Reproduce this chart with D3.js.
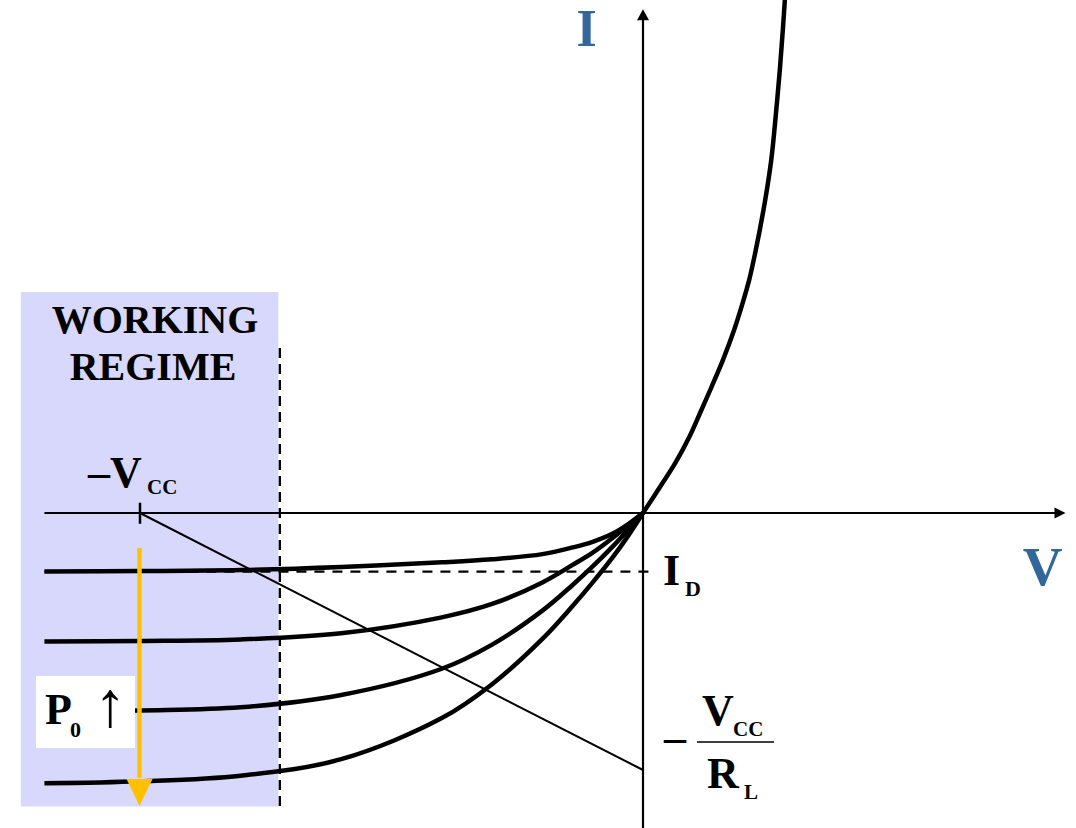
<!DOCTYPE html>
<html>
<head>
<meta charset="utf-8">
<script src="https://cdn.jsdelivr.net/npm/d3@7"></script>
<style>
  html, body { margin: 0; padding: 0; background: #ffffff; }
  svg { display: block; }
</style>
</head>
<body>
<svg id="chart" width="1076" height="828"></svg>
<script>
// Photodiode I–V characteristics under increasing optical power P0,
// with the reverse-bias working regime and the load line of R_L.

// Reverse-bias voltages at which the illuminated curves are sampled
const voltageGrid = [-11.9, -10, -8, -6, -4, -3, -2, -1.4, -1, -0.6, -0.3, 0];
// Currents for four optical power levels (lowest to highest)
const currentP1 = [-1.14, -1.13, -1.11, -1.05, -0.96, -0.90, -0.80, -0.67, -0.56, -0.40, -0.22, 0];
const currentP2 = [-2.50, -2.49, -2.46, -2.34, -2.03, -1.77, -1.35, -1.01, -0.77, -0.48, -0.24, 0];
const currentP3 = [-3.87, -3.84, -3.78, -3.54, -3.03, -2.56, -1.90, -1.40, -1.04, -0.65, -0.33, 0];
const currentP4 = [-5.26, -5.22, -5.11, -4.79, -3.99, -3.33, -2.45, -1.81, -1.35, -0.86, -0.45, 0];
// Forward-bias (dark) branch
const darkVoltage = [0, 0.34, 0.64, 0.92, 1.15, 1.37, 1.59, 1.79, 1.97, 2.11, 2.23, 2.33, 2.43, 2.55, 2.64, 2.72, 2.78, 2.82, 2.84];
const darkCurrent = [0, 0.51, 0.97, 1.48, 1.98, 2.47, 2.98, 3.50, 4.05, 4.53, 5.06, 5.55, 6.09, 6.87, 7.74, 8.62, 9.40, 9.98, 10.21];

const supplyVoltage = 10;       // V_CC
const loadIntercept = 5;        // V_CC / R_L
const darkCurrentLevel = -1.14; // I_D
const regimeVoltage = [-12.37, -7.25];
const regimeCurrent = [4.3, -5.71];
const regimeEdge = -7.22;
const axisVoltage = [-11.9, 8.4];
const axisCurrent = [-6.3, 9.8];

const svg = d3.select("#chart");
const x = d3.scaleLinear().domain([-supplyVoltage, 0]).range([140, 643]);
const y = d3.scaleLinear().domain([0, -loadIntercept]).range([513, 770]);

const blue = "#336699";

// Shaded working regime
svg.append("rect")
  .attr("x", x(regimeVoltage[0]))
  .attr("y", y(regimeCurrent[0]))
  .attr("width", x(regimeVoltage[1]) - x(regimeVoltage[0]))
  .attr("height", y(regimeCurrent[1]) - y(regimeCurrent[0]))
  .attr("fill", "#d8d8fc");

// Boundary of the regime
svg.append("line")
  .attr("x1", x(regimeEdge)).attr("x2", x(regimeEdge))
  .attr("y1", y(3.21)).attr("y2", y(-5.78))
  .attr("stroke", "#000").attr("stroke-width", 2.3)
  .attr("stroke-dasharray", "10,6");

// Axes
const axisG = svg.append("g");
axisG.append("line")
  .attr("x1", x(axisVoltage[0])).attr("x2", x(axisVoltage[1]) - 4)
  .attr("y1", y(0)).attr("y2", y(0))
  .attr("stroke", "#000").attr("stroke-width", 2);
axisG.append("line")
  .attr("x1", x(0)).attr("x2", x(0))
  .attr("y1", y(axisCurrent[0])).attr("y2", y(axisCurrent[1]) + 4)
  .attr("stroke", "#000").attr("stroke-width", 2.2);
// arrow heads
const hx = x(axisVoltage[1]), hy = y(0);
axisG.append("path")
  .attr("d", `M${hx},${hy} L${hx - 11},${hy - 5.5} L${hx - 11},${hy + 5.5} Z`)
  .attr("fill", "#000");
const vx = x(0), vy = y(axisCurrent[1]);
axisG.append("path")
  .attr("d", `M${vx},${vy} L${vx - 6},${vy + 11} L${vx + 6},${vy + 11} Z`)
  .attr("fill", "#000");

// I_D dashed level
svg.append("line")
  .attr("x1", x(-11.9)).attr("x2", x(0.16))
  .attr("y1", y(darkCurrentLevel)).attr("y2", y(darkCurrentLevel))
  .attr("stroke", "#000").attr("stroke-width", 2.3)
  .attr("stroke-dasharray", "10,8");

// Load line from (-V_CC, 0) to (0, -V_CC/R_L)
svg.append("line")
  .attr("x1", x(-supplyVoltage)).attr("y1", y(0))
  .attr("x2", x(0)).attr("y2", y(-loadIntercept))
  .attr("stroke", "#000").attr("stroke-width", 2);
// -V_CC tick
svg.append("line")
  .attr("x1", x(-supplyVoltage)).attr("x2", x(-supplyVoltage))
  .attr("y1", y(0.2)).attr("y2", y(-0.21))
  .attr("stroke", "#000").attr("stroke-width", 2.5);

// Characteristic curves
const line = d3.line()
  .x(d => x(d[0])).y(d => y(d[1]))
  .curve(d3.curveCatmullRom.alpha(0.5));

[currentP1, currentP2, currentP3, currentP4].forEach(series => {
  svg.append("path")
    .datum(voltageGrid.map((v, i) => [v, series[i]]))
    .attr("d", line)
    .attr("fill", "none")
    .attr("stroke", "#000")
    .attr("stroke-width", 4.5);
});
svg.append("path")
  .datum(darkVoltage.map((v, i) => [v, darkCurrent[i]]))
  .attr("d", line)
  .attr("fill", "none")
  .attr("stroke", "#000")
  .attr("stroke-width", 4.5);

// Text labels
function label(txt, px, py, size, opts = {}) {
  return svg.append("text")
    .attr("x", px).attr("y", py)
    .style("font-family", '"Liberation Serif"')
    .style("font-weight", "bold")
    .style("font-size", size + "px")
    .attr("fill", opts.fill || "#000")
    .attr("text-anchor", opts.anchor || "start")
    .text(txt);
}

label("WORKING", 155, 333, 40, { anchor: "middle" });
label("REGIME", 153, 380, 40, { anchor: "middle" });

// -V_CC
label("\u2013V", x(-supplyVoltage) - 52, 487, 44);
label("CC", x(-supplyVoltage) + 7, 494, 21);

// Axis names
label("I", 586.5, 46, 52, { anchor: "middle", fill: blue });
label("V", 1042.5, 585, 55, { anchor: "middle", fill: blue });

// I_D
label("I", 663, y(darkCurrentLevel) + 13, 44);
label("D", 685, y(darkCurrentLevel) + 24, 22);

// -V_CC / R_L
const fy = y(-loadIntercept) - 28;
label("\u2013", 664, fy + 10, 44);
svg.append("line")
  .attr("x1", 697).attr("x2", 774)
  .attr("y1", fy).attr("y2", fy)
  .attr("stroke", "#000").attr("stroke-width", 1.6);
label("V", 702, fy - 17, 44);
label("CC", 733, fy - 6, 21);
label("R", 707, fy + 46, 44);
label("L", 744, fy + 57, 21);

// P0 legend box
svg.append("rect")
  .attr("x", 36).attr("y", 676)
  .attr("width", 99).attr("height", 72)
  .attr("fill", "#ffffff");
label("P", 45, 724, 44);
label("0", 70, 737, 22);
label("\u2191", 110, 726, 64, { anchor: "middle" });

// Increasing optical power arrow
const ax = x(-supplyVoltage) - 0.5;
svg.append("line")
  .attr("x1", ax).attr("x2", ax)
  .attr("y1", y(-0.68)).attr("y2", y(-5.15))
  .attr("stroke", "#ffc000").attr("stroke-width", 4.5);
const tipY = y(-5.7);
svg.append("path")
  .attr("d", `M${ax},${tipY} L${ax - 13},${tipY - 27} L${ax + 13},${tipY - 27} Z`)
  .attr("fill", "#ffc000");
</script>
</body>
</html>
